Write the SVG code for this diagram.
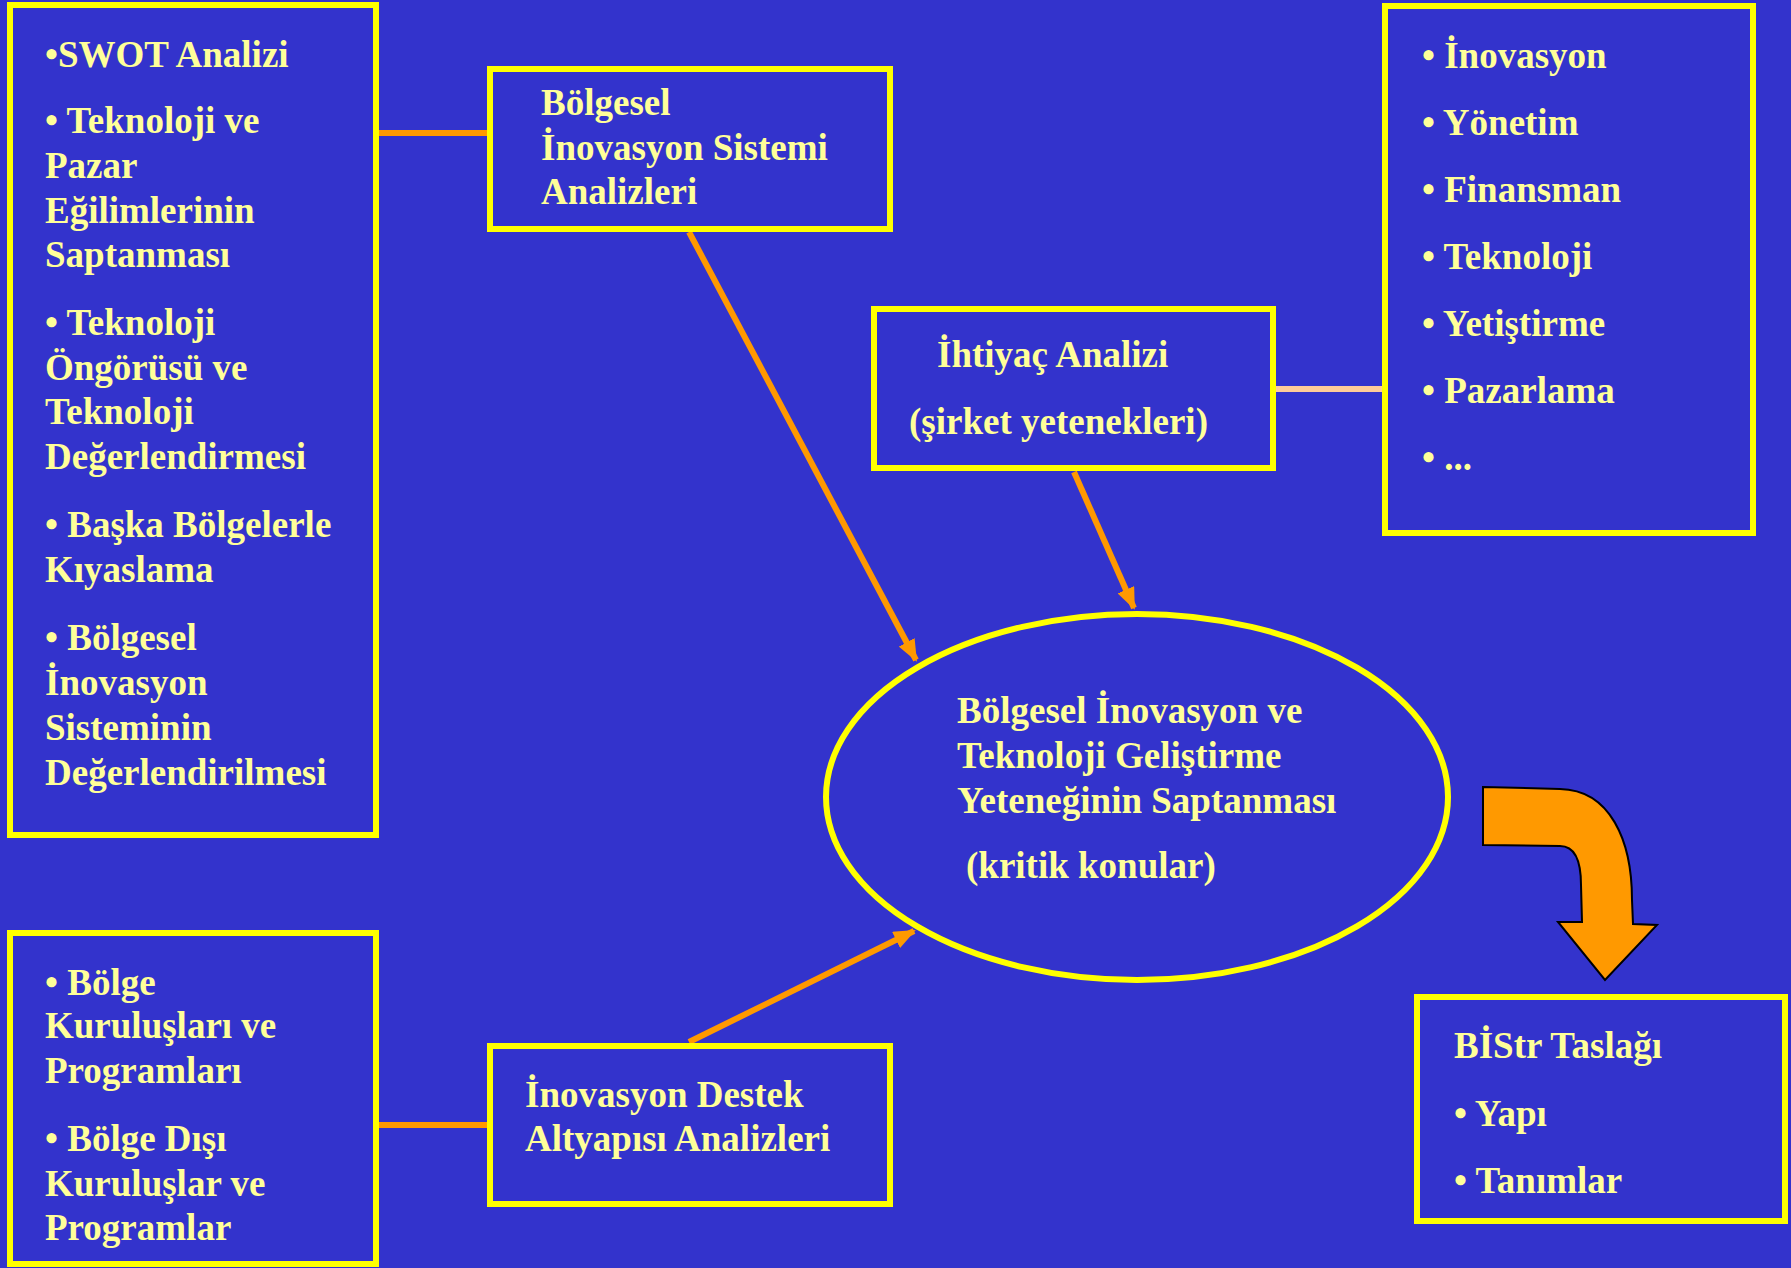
<svg xmlns="http://www.w3.org/2000/svg" width="1791" height="1268" viewBox="0 0 1791 1268">
<style>
.box{fill:none;stroke:#FFFF00;stroke-width:6}
.t{font-family:"Liberation Serif","Times New Roman",serif;font-weight:bold;font-size:37px;fill:#FFFF99}
.con{stroke:#FF9900;stroke-width:6;fill:none}
</style>
<defs>
<marker id="ah" markerUnits="userSpaceOnUse" markerWidth="22" markerHeight="18" viewBox="0 0 22 18" refX="20" refY="9" orient="auto">
<path d="M0,0 L22,9 L0,18 Z" fill="#FF9900"/>
</marker>
</defs>
<rect width="1791" height="1268" fill="#3333CC"/>
<g id="connectors">
<line class="con" x1="379" y1="133" x2="487" y2="133"/>
<line class="con" x1="379" y1="1125" x2="487" y2="1125"/>
<line x1="1276" y1="389" x2="1382" y2="389" stroke="#FFCC99" stroke-width="6"/>
<line class="con" x1="689" y1="232" x2="916" y2="660" marker-end="url(#ah)"/>
<line class="con" x1="1074" y1="472" x2="1134" y2="608" marker-end="url(#ah)"/>
<line class="con" x1="689" y1="1042" x2="914" y2="931" marker-end="url(#ah)"/>
</g>
<g id="swot">
<rect class="box" x="10" y="5" width="366" height="830"/>
<text class="t" x="45" y="67">•SWOT Analizi</text>
<text class="t" x="45" y="133">• Teknoloji ve</text>
<text class="t" x="45" y="178">Pazar</text>
<text class="t" x="45" y="223">Eğilimlerinin</text>
<text class="t" x="45" y="267">Saptanması</text>
<text class="t" x="45" y="335">• Teknoloji</text>
<text class="t" x="45" y="380">Öngörüsü ve</text>
<text class="t" x="45" y="424">Teknoloji</text>
<text class="t" x="45" y="469">Değerlendirmesi</text>
<text class="t" x="45" y="537">• Başka Bölgelerle</text>
<text class="t" x="45" y="582">Kıyaslama</text>
<text class="t" x="45" y="650">• Bölgesel</text>
<text class="t" x="45" y="695">İnovasyon</text>
<text class="t" x="45" y="740">Sisteminin</text>
<text class="t" x="45" y="785">Değerlendirilmesi</text>
</g>
<g id="bis">
<rect class="box" x="490" y="69" width="400" height="160"/>
<text class="t" x="541" y="115">Bölgesel</text>
<text class="t" x="541" y="160">İnovasyon Sistemi</text>
<text class="t" x="541" y="204">Analizleri</text>
</g>
<g id="ihtiyac">
<rect class="box" x="874" y="309" width="399" height="159"/>
<text class="t" x="937" y="367">İhtiyaç Analizi</text>
<text class="t" x="909" y="434">(şirket yetenekleri)</text>
</g>
<g id="list">
<rect class="box" x="1385" y="6" width="368" height="527"/>
<text class="t" x="1422" y="68">• İnovasyon</text>
<text class="t" x="1422" y="135">• Yönetim</text>
<text class="t" x="1422" y="202">• Finansman</text>
<text class="t" x="1422" y="269">• Teknoloji</text>
<text class="t" x="1422" y="336">• Yetiştirme</text>
<text class="t" x="1422" y="403">• Pazarlama</text>
<text class="t" x="1422" y="470">• ...</text>
</g>
<g id="center">
<ellipse cx="1137" cy="797" rx="311" ry="183" fill="none" stroke="#FFFF00" stroke-width="6"/>
<text class="t" x="957" y="723">Bölgesel İnovasyon ve</text>
<text class="t" x="957" y="768">Teknoloji Geliştirme</text>
<text class="t" x="957" y="813">Yeteneğinin Saptanması</text>
<text class="t" x="966" y="878">(kritik konular)</text>
</g>
<g id="bigarrow">
<path d="M1483 787 L1560 789 C1610 790 1632 840 1632 900 L1633 924 L1657 925 L1605 980 L1558 922 L1582 922 L1581 885 C1581 860 1575 846 1560 846 L1483 845 Z" fill="#FF9900" stroke="#000" stroke-width="2"/>
</g>
<g id="kurulus">
<rect class="box" x="10" y="933" width="366" height="331"/>
<text class="t" x="45" y="995">• Bölge</text>
<text class="t" x="45" y="1038">Kuruluşları ve</text>
<text class="t" x="45" y="1083">Programları</text>
<text class="t" x="45" y="1151">• Bölge Dışı</text>
<text class="t" x="45" y="1196">Kuruluşlar ve</text>
<text class="t" x="45" y="1240">Programlar</text>
</g>
<g id="destek">
<rect class="box" x="490" y="1046" width="400" height="158"/>
<text class="t" x="525" y="1107">İnovasyon Destek</text>
<text class="t" x="525" y="1151">Altyapısı Analizleri</text>
</g>
<g id="bistr">
<rect class="box" x="1417" y="997" width="368" height="224"/>
<text class="t" x="1454" y="1058">BİStr Taslağı</text>
<text class="t" x="1454" y="1126">• Yapı</text>
<text class="t" x="1454" y="1193">• Tanımlar</text>
</g>
</svg>
